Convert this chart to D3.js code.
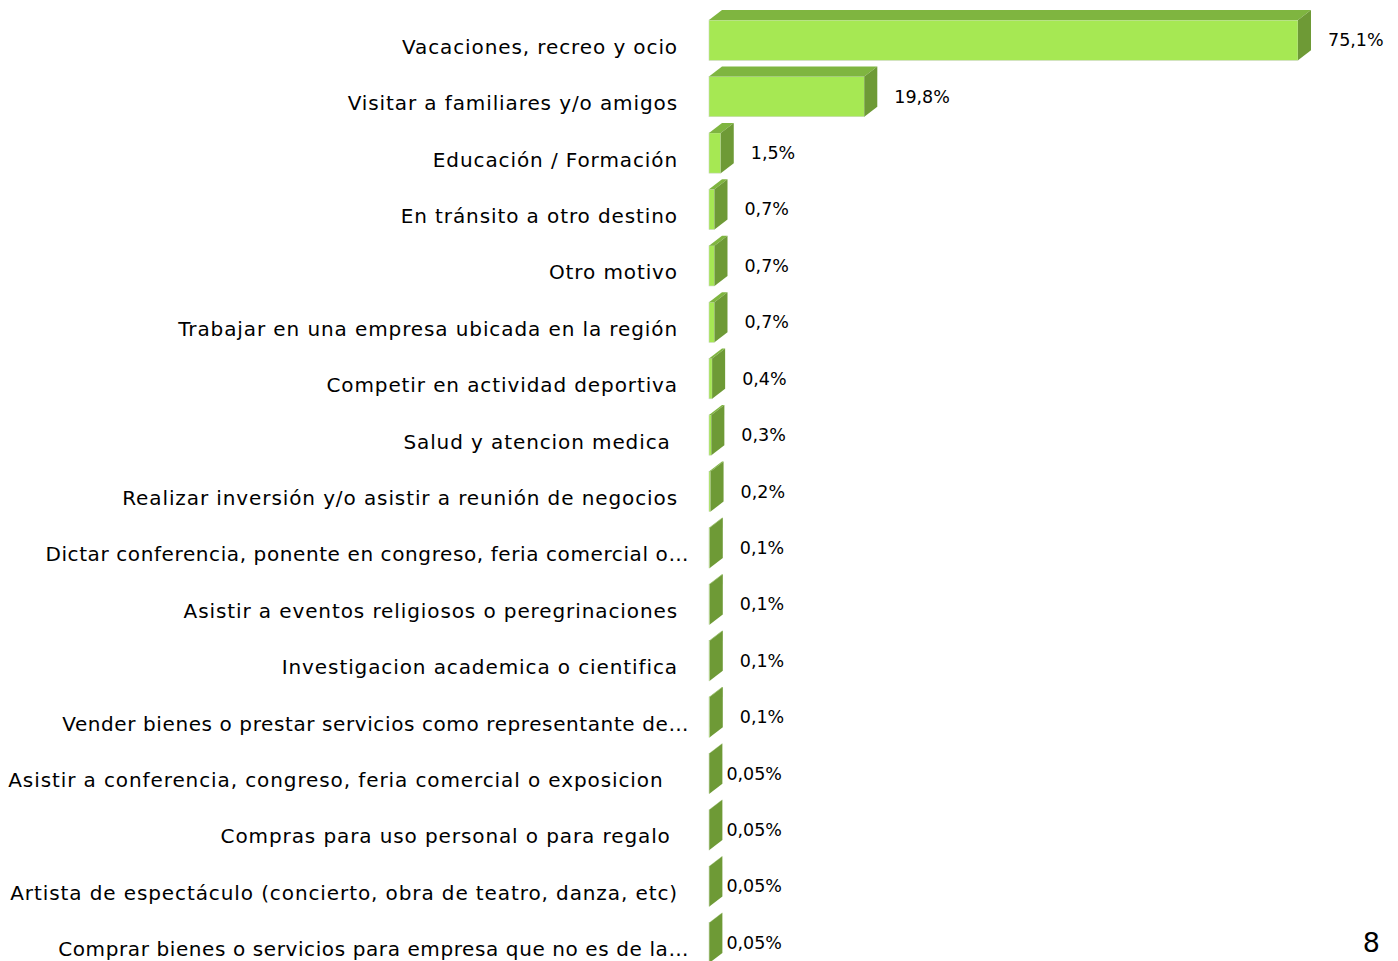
<!DOCTYPE html>
<html>
<head>
<meta charset="utf-8">
<script src="https://cdn.jsdelivr.net/npm/d3@7"></script>
<style>
  body { margin: 0; background: #fff; }
  text { font-family: "DejaVu Sans", sans-serif; fill: #000; white-space: pre; }
</style>
</head>
<body>
<div id="chart"></div>
<script>
// categories (top to bottom) and their shares in %
const categories = [
    "Vacaciones, recreo y ocio",
    "Visitar a familiares y/o amigos",
    "Educación / Formación",
    "En tránsito a otro destino",
    "Otro motivo",
    "Trabajar en una empresa ubicada en la región",
    "Competir en actividad deportiva",
    "Salud y atencion medica ",
    "Realizar inversión y/o asistir a reunión de negocios",
    "Dictar conferencia, ponente en congreso, feria comercial o…",
    "Asistir a eventos religiosos o peregrinaciones",
    "Investigacion academica o cientifica",
    "Vender bienes o prestar servicios como representante de…",
    "Asistir a conferencia, congreso, feria comercial o exposicion  ",
    "Compras para uso personal o para regalo ",
    "Artista de espectáculo (concierto, obra de teatro, danza, etc)",
    "Comprar bienes o servicios para empresa que no es de la…"
];
const values = [75.1, 19.8, 1.5, 0.7, 0.7, 0.7, 0.4, 0.3, 0.2, 0.1, 0.1, 0.1, 0.1, 0.05, 0.05, 0.05, 0.05];
const valueLabels = ["75,1%", "19,8%", "1,5%", "0,7%", "0,7%", "0,7%", "0,4%", "0,3%", "0,2%",
    "0,1%", "0,1%", "0,1%", "0,1%", "0,05%", "0,05%", "0,05%", "0,05%"];

const width = 1398, height = 961;
const x0 = 709;          // bar base line
const depthX = 13, depthY = 10;

const svg = d3.select("#chart")
    .append("svg")
    .attr("width", width)
    .attr("height", height);

const x = d3.scaleLinear()
    .domain([0, 75.1])
    .range([x0, 1298]);

const y = d3.scaleBand()
    .domain(categories)
    .range([7, 966])
    .paddingInner(0.11)
    .paddingOuter(0.055);

const rows = svg.selectAll("g.row")
    .data(categories)
    .enter()
    .append("g")
    .attr("class", "row");

// front face
rows.append("rect")
    .attr("x", x0)
    .attr("y", d => y(d) + depthY)
    .attr("width", (d, i) => x(values[i]) - x0)
    .attr("height", y.bandwidth() - depthY)
    .attr("fill", "#a6e853")
    .attr("stroke", "#c9d8bb")
    .attr("stroke-width", 0.6);

// top face
rows.append("path")
    .attr("d", (d, i) => {
        const t = y(d) + depthY, xe = x(values[i]);
        return `M${x0},${t}L${x0 + depthX},${t - depthY}L${xe + depthX},${t - depthY}L${xe},${t}Z`;
    })
    .attr("fill", "#7fb540");

// side face
rows.append("path")
    .attr("d", (d, i) => {
        const t = y(d) + depthY, b = y(d) + y.bandwidth(), xe = x(values[i]);
        return `M${xe},${t}L${xe + depthX},${t - depthY}L${xe + depthX},${b - depthY}L${xe},${b}Z`;
    })
    .attr("fill", "#6e9a36");

// category labels
rows.append("text")
    .attr("x", d => d.endsWith("…") ? 689 : 678)
    .attr("y", d => y(d) + depthY + (y.bandwidth() - depthY) / 2 + 8)
    .attr("text-anchor", "end")
    .attr("dominant-baseline", "middle")
    .style("font-size", "20px")
    .style("letter-spacing", d => d.endsWith("…") ? "0.6px" : "0.9px")
    .text(d => d);

// value labels (small ones sit closer to the bar)
rows.append("text")
    .attr("x", (d, i) => x(values[i]) + depthX + (values[i] < 0.1 ? 4 : 17))
    .attr("y", d => y(d) + y.bandwidth() / 2 + 6)
    .attr("dominant-baseline", "middle")
    .style("font-size", "17.5px")
    .text((d, i) => valueLabels[i]);

// page number
svg.append("text")
    .attr("x", 1380)
    .attr("y", 952)
    .attr("text-anchor", "end")
    .style("font-size", "27px")
    .text("8");
</script>
</body>
</html>
